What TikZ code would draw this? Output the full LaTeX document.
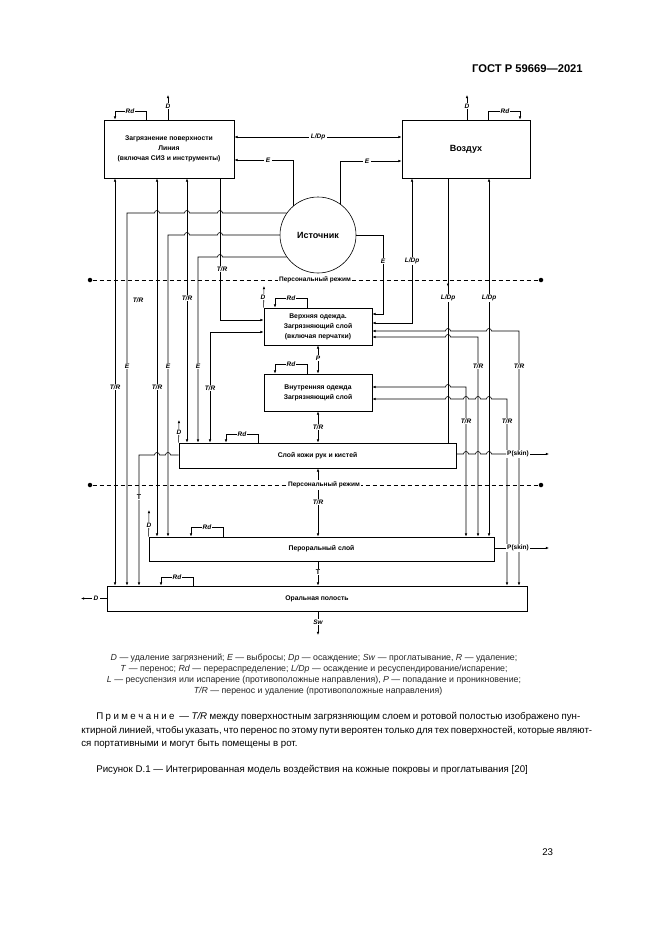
\documentclass[tikz,border=0pt]{standalone}
\usepackage{fontspec}
\setmainfont{Liberation Sans}
\usetikzlibrary{arrows.meta,decorations.markings}
\newcommand\hopl[2]{-- ({#1+2.5},#2) arc[start angle=0,end angle=180,radius=2.5pt]}
\newcommand\hopr[2]{-- ({#1-2.5},#2) arc[start angle=180,end angle=0,radius=2.5pt]}
\begin{document}
\begin{tikzpicture}[x=1pt,y=-1pt,line width=0.6pt,
  box/.style={draw,line width=0.8pt,inner sep=0pt,align=center,font=\fontsize{6.8}{10}\selectfont\bfseries},
  lbl/.style={fill=white,inner sep=0.8pt,font=\fontsize{6.5}{7}\selectfont\bfseries\itshape},
  ulbl/.style={fill=white,inner sep=0.8pt,font=\fontsize{6.5}{7}\selectfont\bfseries},
  tip/.style={-{Latex[length=3.2pt,width=2.6pt]}},
  tips/.style={{Latex[length=3.2pt,width=2.6pt]}-{Latex[length=3.2pt,width=2.6pt]}},
  marked/.style={postaction={decorate},decoration={markings,mark=at position 0.41 with {\arrow{Latex[length=3.2pt,width=2.6pt]}}}},
  dot/.style={circle,fill,inner sep=0pt,minimum size=4.5pt},
  zone/.style={dash pattern=on 4.5pt off 2.5pt},
  legend/.style={font=\fontsize{8.8}{10}\selectfont,text=black!85,inner sep=0pt},
  body/.style={font=\fontsize{9.7}{11}\selectfont,inner sep=0pt,anchor=base west},
]
\useasboundingbox (0,0) rectangle (661,935);
\fill[white] (0,0) rectangle (661,935);

% header
\node[font=\fontsize{11.2}{13}\selectfont\bfseries,anchor=base east,inner sep=0pt] (hdr) at (583,72) {ГОСТ Р 59669—2021};

% zones
\node[dot] (z1l) at (90,280) {}; \node[dot] (z1r) at (541,280) {};
\draw[zone] (z1l) -- (z1r);
\node[dot] (z2l) at (90,485) {}; \node[dot] (z2r) at (541,485) {};
\draw[zone] (z2l) -- (z2r);

% boxes
\node[box,minimum width=130pt,minimum height=58pt] (A) at (169,149) {Загрязнение поверхности\\Линия\\(включая СИЗ и инструменты)};
\node[box,minimum width=128pt,minimum height=58pt,font=\fontsize{9}{11}\selectfont\bfseries] (B) at (466,149) {Воздух};
\node[box,circle,line width=0.6pt,minimum size=76pt,font=\fontsize{9}{11}\selectfont\bfseries] (src) at (318,235) {Источник};
\node[box,minimum width=108pt,minimum height=37pt] (C) at (318,326.5) {Верхняя одежда.\\Загрязняющий слой\\(включая перчатки)};
\node[box,minimum width=108pt,minimum height=37pt] (D) at (318,392.5) {Внутренняя одежда\\Загрязняющий слой};
\node[box,minimum width=277pt,minimum height=25pt] (E) at (317.5,455.5) {Слой кожи рук и кистей};
\node[box,minimum width=345pt,minimum height=24pt] (F) at (321.5,549) {Пероральный слой};
\node[box,minimum width=420pt,minimum height=25pt] (G) at (317,598.5) {Оральная полость};

% top connectors
\draw[tip] (A.north -| 168,0) -- (168,95);
\draw[tip] (A.north -| 146,0) |- (115,111) -- (A.north -| 115,0);
\draw[tips] (A.east |- 0,137) -- (B.west |- 0,137);
\draw[tip] (src.131) |- (A.east |- 0,160);
\draw[tip] (src.55) |- (B.west |- 0,161);
\draw[tip] (B.north -| 467,0) -- (467,95);
\draw[tip] (B.north -| 488,0) |- (520,111) -- (B.north -| 520,0);

% left columns
\draw[tips] (A.south -| 115,0) -- (G.north -| 115,0);
\draw[tips] (A.south -| 157,0) -- (F.north -| 157,0);
\draw[tips] (A.south -| 187,0) -- (E.north -| 187,0);
\draw[tip] (A.south -| 220,0) |- (C.west |- 0,320);
\draw[tip] (src.145) \hopl{220}{213} \hopl{187}{213} \hopl{157}{213} -- (127,213) -- (G.north -| 127,0);
\draw[tip] (src.west) \hopl{220}{235} \hopl{187}{235} -- (168,235) -- (F.north -| 168,0);
\draw[tip] (src.215) \hopl{220}{257} -- (198,257) -- (E.north -| 198,0);
\draw[tips] (C.west |- 0,332) -| (E.north -| 210,0);
\draw[tip] (E.west |- 0,455) \hopl{168}{455} \hopl{157}{455} -- (139,455) -- (G.north -| 139,0);

% centre column, D and Rd
\draw[tip] (C.north west) -- (264,286);
\draw[tip] (C.north -| 307,0) |- (275,298) -- (C.north -| 275,0);
\draw[tips] (C.south) -- (D.north);
\draw[tip] (D.north -| 307,0) |- (275,364) -- (D.north -| 275,0);
\draw[tips] (D.south) -- (E.north -| D.south);
\draw[tip] (E.north west) -- (179,420);
\draw[tip] (E.north -| 258,0) |- (226,434) -- (E.north -| 226,0);
\draw[tips] (E.south -| 318,0) -- (F.north -| 318,0);
\draw[tip] (F.north west) -- (149,510);
\draw[tip] (F.north -| 223,0) |- (191,527) -- (F.north -| 191,0);
\draw[tip] (F.south -| 318,0) -- (G.north -| 318,0);
\draw[tip] (G.north -| 193,0) |- (161,577) -- (G.north -| 161,0);
\draw[tip] (G.west) -- (81,598.5);
\draw[tip] (G.south -| 318,0) -- (318,635);

% right columns
\draw[tip] (src.east) -| (383,314) -- (C.east |- 0,314);
\draw[tips] (B.south -| 412,0) |- (C.east |- 0,323);
\draw[marked] (B.south -| 448,0) -- (E.north -| 448,0);
\draw[tips] (B.south -| 489,0) -- (F.north -| 489,0);
\draw[tips] (C.east |- 0,331) \hopr{448}{331} \hopr{489}{331} -- (519,331) -- (G.north -| 519,0);
\draw[tips] (C.east |- 0,337) \hopr{448}{337} -- (478,337) -- (F.north -| 478,0);
\draw[tips] (D.east |- 0,387) \hopr{448}{387} -- (466,387) -- (F.north -| 466,0);
\draw[tips] (D.east |- 0,399) \hopr{448}{399} \hopr{466}{399} \hopr{478}{399} \hopr{489}{399} -- (507,399) -- (G.north -| 507,0);

% P(skin)
\node[ulbl] (ps1) at (518,454) {P(skin)};
\coordinate (ps1e) at (549,454);
\draw (E.east |- 0,454) \hopr{466}{454} \hopr{478}{454} \hopr{489}{454} -- (ps1.west);
\draw[tip] (ps1.east) -- (ps1e);
\node[ulbl] (ps2) at (518,548) {P(skin)};
\coordinate (ps2e) at (549,548);
\draw (F.east |- 0,548) -- (ps2.west);
\draw[tip] (ps2.east) -- (ps2e);

% zone labels
\node[ulbl,inner sep=1.5pt] (z1t) at (315,280) {Персональный режим};
\node[ulbl,inner sep=1.5pt] (z2t) at (324,485) {Персональный режим};

% connector labels
\node[lbl] at (130,111) {Rd};
\node[lbl] at (168,106) {D};
\node[lbl,inner sep=2pt] at (318,137) {L/Dp};
\node[lbl,inner sep=2pt] at (268,160) {E};
\node[lbl,inner sep=2pt] at (367,161) {E};
\node[lbl] at (467,106) {D};
\node[lbl] at (505,111) {Rd};
\node[lbl] at (222,269) {T/R};
\node[lbl] at (138,300) {T/R};
\node[lbl] at (187,298) {T/R};
\node[lbl] at (127,366) {E};
\node[lbl] at (168,366) {E};
\node[lbl] at (198,366) {E};
\node[lbl] at (115,387) {T/R};
\node[lbl] at (157,387) {T/R};
\node[lbl] at (210,388) {T/R};
\node[ulbl,font=\fontsize{7}{8}\selectfont\bfseries] at (139,497) {T};
\node[lbl] at (383,261) {E};
\node[lbl] at (412,261) {L/Dp};
\node[lbl] at (448,298) {L/Dp};
\node[lbl] at (489,298) {L/Dp};
\node[lbl] at (478,366) {T/R};
\node[lbl] at (519,366) {T/R};
\node[lbl] at (466,421) {T/R};
\node[lbl] at (507,421) {T/R};
\node[lbl] at (263,297) {D};
\node[lbl] at (291,298) {Rd};
\node[lbl] at (318,358) {P};
\node[lbl] at (291,364) {Rd};
\node[lbl] at (318,427) {T/R};
\node[lbl] at (179,432) {D};
\node[lbl] at (242,434) {Rd};
\node[lbl] at (318,502) {T/R};
\node[lbl] at (149,525) {D};
\node[lbl] at (207,527) {Rd};
\node[lbl] at (177,577) {Rd};
\node[ulbl,font=\fontsize{7}{8}\selectfont\bfseries] at (318,572) {T};
\node[lbl] at (318,622) {Sw};
\node[lbl,inner sep=2pt] at (96,598.5) {D};

% legend
\node[legend] (lg1) at (314,658) {\textit{D} — удаление загрязнений; \textit{E} — выбросы; \textit{Dp} — осаждение; \textit{Sw} — проглатывание, \textit{R} — удаление;};
\node[legend] (lg2) at (314,669) {\textit{T} — перенос; \textit{Rd} — перераспределение; \textit{L/Dp} — осаждение и ресуспендирование/испарение;};
\node[legend] (lg3) at (314,680) {\textit{L} — ресуспензия или испарение (противоположные направления), \textit{P} — попадание и проникновение;};
\node[legend] (lg4) at (318,691) {\textit{T/R} — перенос и удаление (противоположные направления)};

% note
\node[body] (n1) at (96,719.5) {\makebox[484pt][s]{П р и м е ч а н и е \ — \textit{T/R} между поверхностным загрязняющим слоем и ротовой полостью изображено пун-}};
\node[body] (n2) at (81,733) {\makebox[499pt][s]{ктирной линией, чтобы указать, что перенос по этому пути вероятен только для тех поверхностей, которые являют-}};
\node[body] (n3) at (81,746.5) {ся портативными и могут быть помещены в рот.};
\node[body] (cap) at (96,772.5) {Рисунок D.1 — Интегрированная модель воздействия на кожные покровы и проглатывания [20]};
\node[body] (pg) at (542,855.5) {23};
\end{tikzpicture}
\end{document}
